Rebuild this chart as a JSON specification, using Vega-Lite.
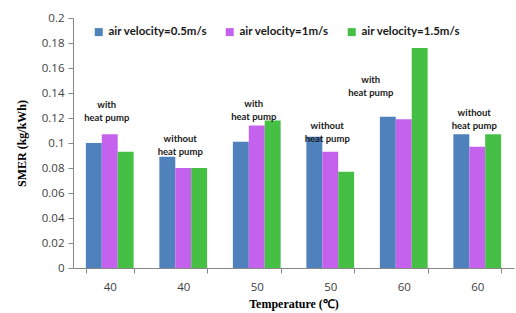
{
  "$schema": "https://vega.github.io/schema/vega-lite/v6.json",
  "width": 441,
  "height": 250,
  "autosize": {"type": "none"},
  "padding": {"left": 73, "top": 18, "right": 2, "bottom": 45},
  "background": "white",
  "config": {
    "view": {"stroke": null},
    "axis": {"grid": false, "domainColor": "#888888", "tickColor": "#888888", "labelFont": "Open Sans", "labelFontSize": 11.5, "labelColor": "#404040", "labelOverlap": false, "labelFlush": false, "titleFont": "Liberation Serif", "titleFontWeight": "bold", "titleFontSize": 12, "titleColor": "#000000"}
  },
  "datasets": {
    "bars": [
      {"cat": "40 with", "series": "air velocity=0.5m/s", "value": 0.1},
      {"cat": "40 with", "series": "air velocity=1m/s", "value": 0.107},
      {"cat": "40 with", "series": "air velocity=1.5m/s", "value": 0.093},
      {"cat": "40 without", "series": "air velocity=0.5m/s", "value": 0.089},
      {"cat": "40 without", "series": "air velocity=1m/s", "value": 0.08},
      {"cat": "40 without", "series": "air velocity=1.5m/s", "value": 0.08},
      {"cat": "50 with", "series": "air velocity=0.5m/s", "value": 0.101},
      {"cat": "50 with", "series": "air velocity=1m/s", "value": 0.114},
      {"cat": "50 with", "series": "air velocity=1.5m/s", "value": 0.118},
      {"cat": "50 without", "series": "air velocity=0.5m/s", "value": 0.105},
      {"cat": "50 without", "series": "air velocity=1m/s", "value": 0.093},
      {"cat": "50 without", "series": "air velocity=1.5m/s", "value": 0.077},
      {"cat": "60 with", "series": "air velocity=0.5m/s", "value": 0.121},
      {"cat": "60 with", "series": "air velocity=1m/s", "value": 0.119},
      {"cat": "60 with", "series": "air velocity=1.5m/s", "value": 0.176},
      {"cat": "60 without", "series": "air velocity=0.5m/s", "value": 0.107},
      {"cat": "60 without", "series": "air velocity=1m/s", "value": 0.097},
      {"cat": "60 without", "series": "air velocity=1.5m/s", "value": 0.107}
    ],
    "notes": [
      {"cat": "40 with", "note": "with\nheat pump", "value": 0.1308},
      {"cat": "40 without", "note": "without\nheat pump", "value": 0.1036},
      {"cat": "50 with", "note": "with\nheat pump", "value": 0.1316},
      {"cat": "50 without", "note": "without\nheat pump", "value": 0.114},
      {"cat": "60 with", "note": "with\nheat pump", "value": 0.1508},
      {"cat": "60 without", "note": "without\nheat pump", "value": 0.124}
    ]
  },
  "encoding": {
    "x": {
      "field": "cat", "type": "nominal",
      "sort": ["40 with", "40 without", "50 with", "50 without", "60 with", "60 without"],
      "scale": {"paddingInner": 0.35, "paddingOuter": 0.175},
      "axis": {"title": "Temperature (℃)", "labelAngle": 0, "labelExpr": "split(datum.label, ' ')[0]", "tickBand": "extent", "tickSize": 5, "labelPadding": 8, "titlePadding": 6}
    },
    "y": {"field": "value", "type": "quantitative", "scale": {"domain": [0, 0.2], "nice": false}, "axis": {"title": "SMER (kg/kWh)", "values": [0, 0.02, 0.04, 0.06, 0.08, 0.1, 0.12, 0.14, 0.16, 0.18, 0.2], "labelOverlap": false, "format": ".2~f", "tickSize": 5, "labelPadding": 4, "titlePadding": 13}}
  },
  "layer": [
    {
      "data": {"name": "bars"},
      "mark": {"type": "bar"},
      "encoding": {
        "xOffset": {"field": "series", "type": "nominal", "sort": ["air velocity=0.5m/s", "air velocity=1m/s", "air velocity=1.5m/s"], "scale": {"paddingInner": 0, "paddingOuter": 0}},
        "color": {
          "field": "series", "type": "nominal",
          "sort": ["air velocity=0.5m/s", "air velocity=1m/s", "air velocity=1.5m/s"],
          "scale": {"domain": ["air velocity=0.5m/s", "air velocity=1m/s", "air velocity=1.5m/s"], "range": ["#4F81BD", "#C462EE", "#45C045"]},
          "legend": {"title": null, "orient": "none", "legendX": 20, "legendY": 8, "direction": "horizontal", "symbolType": "square", "symbolSize": 64, "symbolStrokeWidth": 0, "labelFont": "Lato", "labelFontWeight": "bold", "labelFontSize": 11.5, "labelColor": "#1a1a1a", "labelLimit": 300, "columnPadding": 17, "labelOffset": 4}
        }
      }
    },
    {
      "data": {"name": "notes"},
      "transform": [{"filter": "datum.cat != '60 with'"}],
      "mark": {"type": "text", "lineBreak": "\n", "font": "Lato", "fontWeight": "bold", "fontSize": 9.5, "lineHeight": 13, "color": "#1a1a1a", "baseline": "middle", "align": "center", "dx": -3},
      "encoding": {
        "text": {"field": "note"}
      }
    },
    {
      "data": {"name": "notes"},
      "transform": [{"filter": "datum.cat == '60 with'"}],
      "mark": {"type": "text", "lineBreak": "\n", "font": "Lato", "fontWeight": "bold", "fontSize": 9.5, "lineHeight": 13, "color": "#1a1a1a", "baseline": "middle", "align": "center", "dx": -33},
      "encoding": {
        "text": {"field": "note"}
      }
    }
  ]
}
